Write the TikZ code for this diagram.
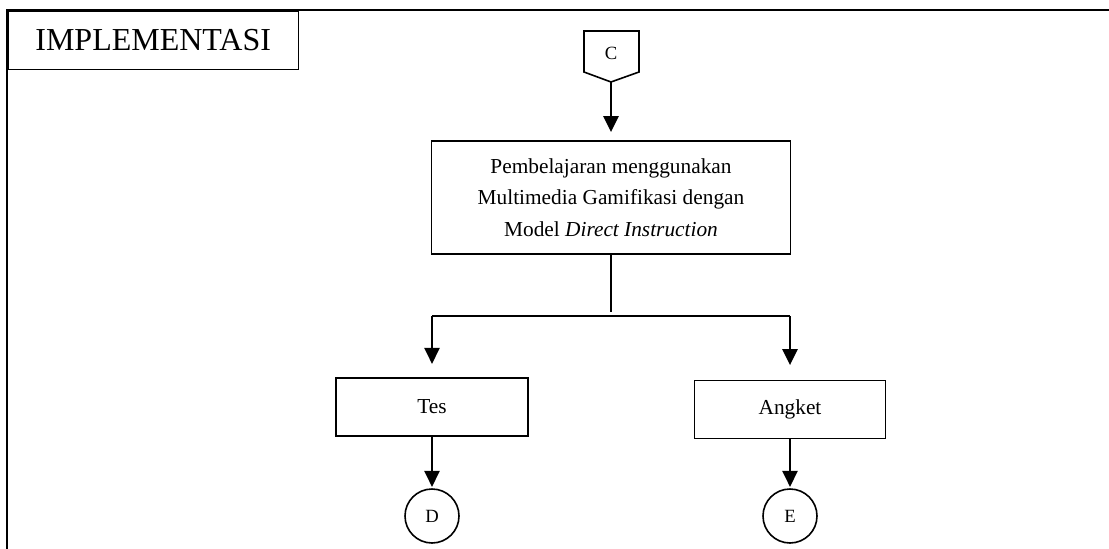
\documentclass[tikz,border=0pt]{standalone}
\usepackage{fontspec}
\setmainfont{Liberation Serif}
\usetikzlibrary{arrows.meta}

\tikzset{
  kotak/.style={draw, line width=1.2pt, minimum width=#1, minimum height=43.5pt, inner sep=2pt, font=\fontsize{16}{23}\selectfont},
  lingkaran/.style={draw, circle, line width=1.2pt, minimum size=40.5pt, inner sep=0pt, font=\fontsize{14}{16}\selectfont},
  panah/.style={line width=1.2pt, -{Triangle[length=12pt,width=11.5pt]}}
}

\begin{document}
\begin{tikzpicture}[x=0.75pt, y=-0.75pt]
  \useasboundingbox (0,0) rectangle (1109,549);

  % Bingkai tahap
  \draw[line width=1.6pt] (7,549) -- (7,10) -- (1109,10);
  \node[draw, line width=1.3pt, anchor=north west, minimum width=218pt, minimum height=44pt,
        font=\fontsize{24}{28}\selectfont] (judul) at (7,10) {IMPLEMENTASI};

  % Penghubung halaman C
  \coordinate (ujungC) at (611,82);
  \draw[line width=1.2pt] (584,31) -- (639,31) -- (639,72) -- (ujungC) -- (584,72) -- cycle;
  \node[font=\fontsize{14}{16}\selectfont] (c) at (611,53) {C};

  % Kegiatan pembelajaran
  \node[kotak=269pt, minimum height=85pt, align=center, font=\fontsize{16}{23.5}\selectfont]
    (belajar) at (611,197.5)
    {\rule{0pt}{6pt}Pembelajaran menggunakan\\ Multimedia Gamifikasi dengan\\ Model \textit{Direct Instruction}};
  \draw[panah, shorten >=6pt] (ujungC) -- (belajar.north);

  % Percabangan
  \coordinate (cabang) at (611,316);
  \node[kotak=144pt] (tes) at (432,407) {Tes};
  \node[kotak=143pt] (angket) at (790,409.5) {Angket};
  \draw[line width=1.2pt] (belajar.south) -- ([yshift=3pt]cabang);
  \draw[line width=1.2pt] (tes.north |- cabang) -- (angket.north |- cabang);
  \draw[panah, shorten >=10pt] (tes.north |- cabang) -- (tes.north);
  \draw[panah, shorten >=11pt] (angket.north |- cabang) -- (angket.north);

  % Penghubung D dan E
  \node[lingkaran] (d) at (432,516) {D};
  \node[lingkaran] (e) at (790,516) {E};
  \draw[panah, shorten >=1pt] (tes.south) -- (d.north);
  \draw[panah, shorten >=1pt] (angket.south) -- (e.north);
\end{tikzpicture}
\end{document}
